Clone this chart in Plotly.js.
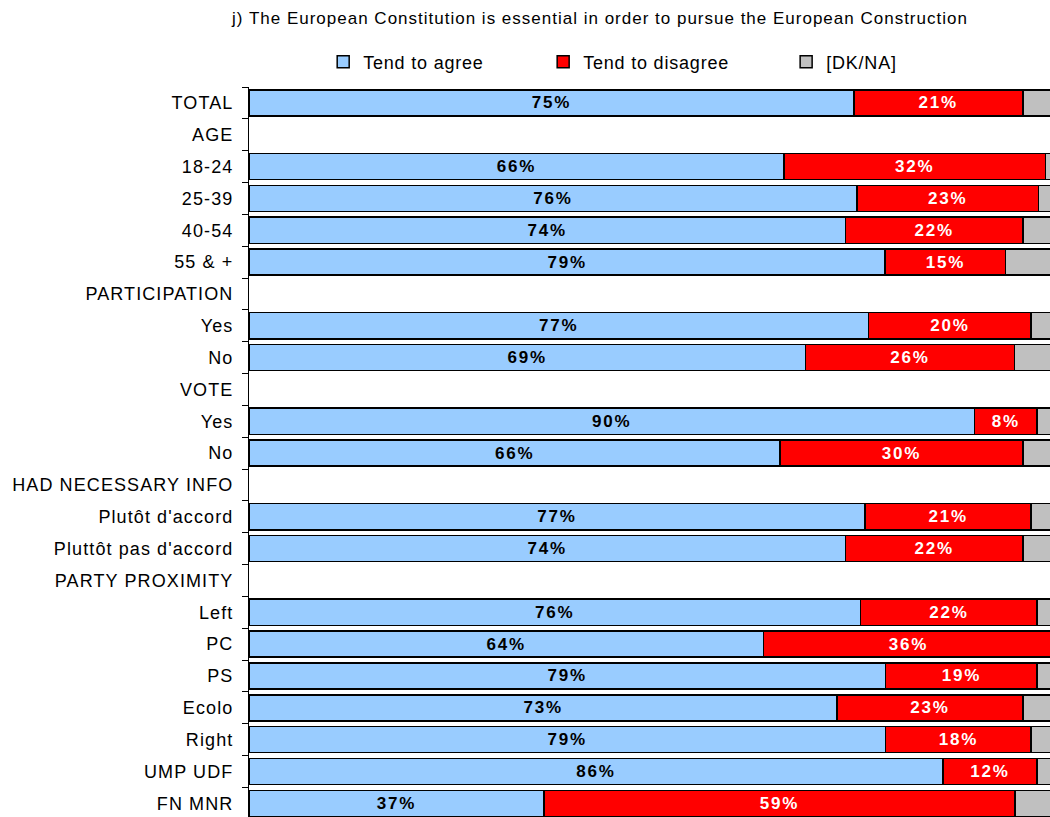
<!DOCTYPE html>
<html>
<head>
<meta charset="utf-8">
<script src="https://cdn.plot.ly/plotly-3.0.1.min.js"></script>
<style>
  html, body { margin: 0; padding: 0; background: #fff; }
  #chart { width: 1050px; height: 817px; }
  #chart .ytick text { letter-spacing: 1.1px; }
  #chart .legendtext, #chart g[class^="legend"] text { letter-spacing: 0.8px; }
  #chart .gtitle { letter-spacing: 1px; }
  #chart .bartext { letter-spacing: 1.8px; }
</style>
</head>
<body>
<div id="chart"></div>
<script>
const categories = ["TOTAL", "AGE", "18-24", "25-39", "40-54", "55 & +", "PARTICIPATION", "Yes", "No", "VOTE", "Yes", "No", "HAD NECESSARY INFO", "Plutôt d'accord", "Pluttôt pas d'accord", "PARTY PROXIMITY", "Left", "PC", "PS", "Ecolo", "Right", "UMP UDF", "FN MNR"];
const agree    = [75.13, null, 66.45, 75.52, 74.10, 79.03, null, 76.96, 69.13, null, 90.12, 65.99, null, 76.52, 74.10, null, 75.96, 63.91, 79.07, 73.07, 79.07, 86.19, 36.62];
const disagree = [20.99, null, 32.49, 22.52, 22.02, 14.95, null, 20.21, 25.96, null, 7.79, 30.13, null, 20.65, 22.02, null, 21.95, 36.00, 18.84, 23.05, 18.10, 11.72, 58.52];
const dkna     = [3.88, null, 1.06, 1.96, 3.88, 6.02, null, 2.83, 4.91, null, 2.09, 3.88, null, 2.83, 3.88, null, 2.09, 0.09, 2.09, 3.88, 2.83, 2.09, 4.86];
const seriesNames = ["Tend to agree", "Tend to disagree", "[DK/NA]"];
const chartTitle = "j) The European Constitution is essential in order to pursue the European Construction";

const rows = categories.map((c, i) => i);
const FONT = "Liberation Sans, Arial, sans-serif";
const outline = { color: "#000000", width: 1.5 };

const traces = [
  {
    type: "bar", orientation: "h", name: seriesNames[0], legend: "legend",
    y: rows, x: agree,
    marker: { color: "#99CCFF", line: outline },
    texttemplate: "%{x:.0f}%", textposition: "inside", insidetextanchor: "middle",
    textfont: { family: FONT, size: 17, color: "#000000", weight: 700 },
    constraintext: "none", hoverinfo: "x"
  },
  {
    type: "bar", orientation: "h", name: seriesNames[1], legend: "legend2",
    y: rows, x: disagree,
    marker: { color: "#FF0000", line: outline },
    texttemplate: "%{x:.0f}%", textposition: "inside", insidetextanchor: "middle",
    textfont: { family: FONT, size: 17, color: "#FFFFFF", weight: 700 },
    constraintext: "none", hoverinfo: "x"
  },
  {
    type: "bar", orientation: "h", name: seriesNames[2], legend: "legend3",
    y: rows, x: dkna,
    marker: { color: "#C0C0C0", line: outline },
    textposition: "none", hoverinfo: "x"
  }
];

function legendAt(xc) {
  return {
    orientation: "h", xref: "container", yref: "container",
    x: xc, xanchor: "left", y: 0.924, yanchor: "middle",
    font: { family: FONT, size: 18, color: "#000000" },
    entrywidth: 200,
    bgcolor: "rgba(0,0,0,0)", borderwidth: 0
  };
}

const layout = {
  width: 1050, height: 817,
  margin: { l: 249, r: 0, t: 87, b: 0, pad: 0 },
  paper_bgcolor: "#ffffff", plot_bgcolor: "#ffffff",
  font: { family: FONT, size: 17, color: "#000000" },
  barmode: "stack", bargap: 0.18,
  title: {
    text: chartTitle, font: { family: FONT, size: 17, color: "#000000" },
    xref: "container", yref: "container", x: 0.5714, xanchor: "center", y: 0.978, yanchor: "middle"
  },
  showlegend: true,
  legend: legendAt(0.3078),
  legend2: legendAt(0.5173),
  legend3: legendAt(0.7487),
  xaxis: {
    range: [0, 99.5], showgrid: false, zeroline: false, showticklabels: false,
    showline: false, ticks: "", fixedrange: true
  },
  yaxis: {
    range: [22.43, -0.5], tickmode: "array", tickvals: rows, ticktext: categories,
    ticks: "outside", ticklen: 11, tickcolor: "rgba(0,0,0,0)",
    minor: { ticks: "outside", ticklen: 6, tick0: 0.5, dtick: 1, tickcolor: "#000000", tickwidth: 1, showgrid: false },
    showline: true, linecolor: "#000000", linewidth: 1,
    showgrid: false, zeroline: false,
    tickfont: { family: FONT, size: 18, color: "#000000" }, fixedrange: true
  }
};

Plotly.newPlot("chart", traces, layout, { displayModeBar: false, staticPlot: true });
</script>
</body>
</html>
